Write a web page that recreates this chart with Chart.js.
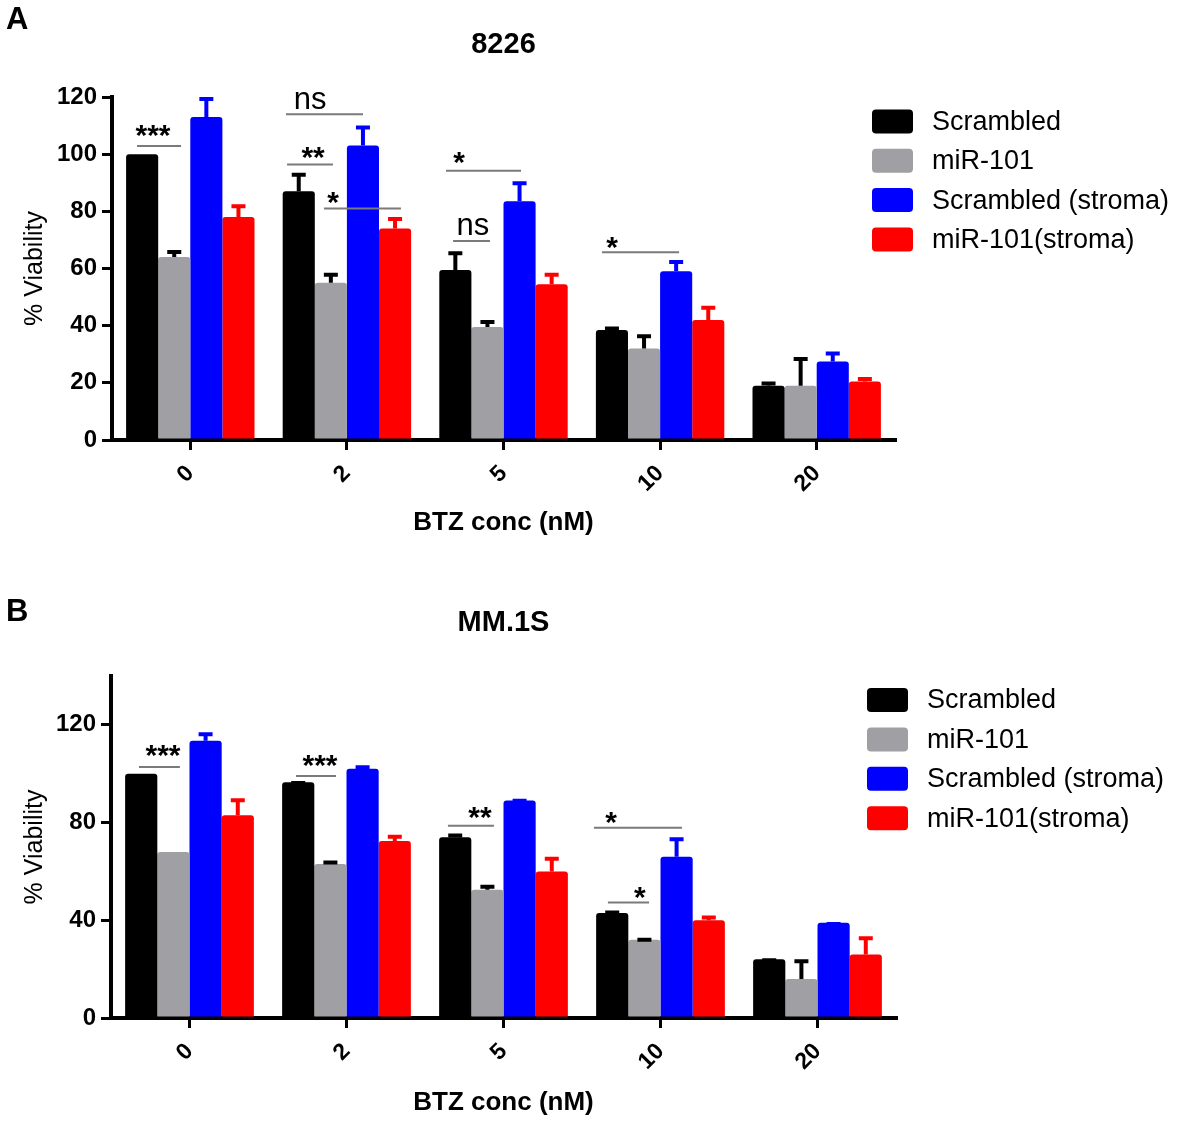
<!DOCTYPE html>
<html>
<head>
<meta charset="utf-8">
<script src="https://cdn.jsdelivr.net/npm/chart.js@4.4.1/dist/chart.umd.min.js"></script>
<style>
  body { margin: 0; background: #fff; font-family: "Liberation Sans", Arial, sans-serif; }
  .panel { position: absolute; left: 0; width: 1181px; }
  .letter { position: absolute; left: 6px; font-weight: bold; font-size: 31px; color: #000; }
</style>
</head>
<body>
<div class="panel" style="top:0;height:560px"><canvas id="chartA"></canvas></div>
<div class="panel" style="top:560px;height:561px"><canvas id="chartB"></canvas></div>
<div class="letter" style="top:1px">A</div>
<div class="letter" style="top:593px">B</div>
<script>
const doses = ['0', '2', '5', '10', '20'];
const seriesNames = ['Scrambled', 'miR-101', 'Scrambled (stroma)', 'miR-101(stroma)'];
const seriesColors = ['#000000', '#a0a0a4', '#0000ff', '#ff0000'];
const errColors = ['#000000', '#000000', '#0000ff', '#ff0000']; // grey bars get black SEM bars

// panel A - 8226
const a_scrambled = [100, 87, 59.5, 38.5, 19];
const a_mir101 = [64, 55, 39.5, 32, 19];
const a_scrStroma = [113, 103, 83.5, 59, 27.5];
const a_mirStroma = [78, 74, 54.5, 42, 20.5];
const a_scrambledErr = [0, 6.5, 6.5, 1.2, 1.5];
const a_mir101Err = [2.5, 3.5, 2.5, 5, 10];
const a_scrStromaErr = [7, 7, 7, 4, 3.5];
const a_mirStromaErr = [4.5, 4, 4, 5, 1.5];

// significance marks for A (x in category units relative to the group centre)
const a_sigGroup = [0, 1, 1, 1, 2, 2, 3];
const a_sigStart = [-0.34, -0.389, -0.382, -0.146, -0.367, -0.322, -0.371];
const a_sigEnd = [-0.059, 0.103, -0.089, 0.345, 0.112, -0.086, 0.121];
const a_sigLineY = [102.9, 114, 96.4, 81, 94.2, 69.6, 65.7];
const a_sigText = ['***', 'ns', '**', '*', '*', 'ns', '*'];
const a_sigTextX = [-0.238, -0.235, -0.216, -0.089, -0.284, -0.195, -0.307];
const a_sigTextY = [108, 118.9, 100.3, 84.6, 98.8, 74.8, 68.9];

// panel B - MM.1S
const b_scrambled = [100, 96.5, 74, 43, 24];
const b_mir101 = [68, 63, 52.5, 32, 16];
const b_scrStroma = [113.5, 102, 89, 66, 39];
const b_mirStroma = [83, 72.5, 60, 40, 26];
const b_scrambledErr = [0, 0.5, 1.5, 1, 0.5];
const b_mir101Err = [0, 1.5, 2, 0.8, 8];
const b_scrStromaErr = [3.5, 1.5, 0.8, 8, 0.3];
const b_mirStromaErr = [7, 2.5, 6, 2, 7.5];

const b_sigGroup = [0, 1, 2, 3, 3];
const b_sigStart = [-0.322, -0.322, -0.354, -0.424, -0.335];
const b_sigEnd = [-0.061, -0.067, -0.061, 0.137, -0.073];
const b_sigLineY = [102.7, 99.1, 78.7, 77.9, 47.3];
const b_sigText = ['***', '***', '**', '*', '*'];
const b_sigTextX = [-0.169, -0.169, -0.150, -0.315, -0.131];
const b_sigTextY = [109.1, 105.4, 84, 82, 51.2];

Chart.defaults.font.family = '"Liberation Sans", Arial, sans-serif';
Chart.defaults.color = '#000';

// upward SEM bars
function errorBars(errs) {
  return {
    id: 'errorBars',
    afterDatasetsDraw(chart) {
      const { ctx, scales: { y } } = chart;
      chart.data.datasets.forEach((ds, d) => {
        chart.getDatasetMeta(d).data.forEach((bar, i) => {
          const e = errs[d][i];
          if (!e) return;
          const top = y.getPixelForValue(ds.data[i] + e) + 2;
          ctx.save();
          ctx.strokeStyle = errColors[d];
          ctx.lineWidth = 4;
          ctx.beginPath();
          ctx.moveTo(bar.x, bar.y);
          ctx.lineTo(bar.x, top);
          ctx.moveTo(bar.x - 7, top);
          ctx.lineTo(bar.x + 7, top);
          ctx.stroke();
          ctx.restore();
        });
      });
    }
  };
}

function sigMarks(groups, starts, ends, lineYs, texts, textXs, textYs) {
  return {
    id: 'sigMarks',
    afterDatasetsDraw(chart) {
      const { ctx, scales: { x, y } } = chart;
      const step = x.getPixelForValue(1) - x.getPixelForValue(0);
      groups.forEach((g, i) => {
        const cx = x.getPixelForValue(g);
        const ly = y.getPixelForValue(lineYs[i]);
        ctx.save();
        ctx.strokeStyle = '#7a7a7a';
        ctx.lineWidth = 2;
        ctx.beginPath();
        ctx.moveTo(cx + starts[i] * step, ly);
        ctx.lineTo(cx + ends[i] * step, ly);
        ctx.stroke();
        const isNs = texts[i] === 'ns';
        ctx.font = (isNs ? 'normal 31px ' : 'bold 30px ') + '"Liberation Sans", Arial, sans-serif';
        ctx.fillStyle = '#000';
        ctx.textAlign = 'center';
        ctx.textBaseline = 'alphabetic';
        const m = ctx.measureText(texts[i]);
        const ty = y.getPixelForValue(textYs[i]) + (m.actualBoundingBoxAscent - m.actualBoundingBoxDescent) / 2;
        ctx.fillText(texts[i], cx + textXs[i] * step, ty);
        ctx.restore();
      });
    }
  };
}

function boxLegend(boxX, firstY, rowH) {
  return {
    id: 'boxLegend',
    afterDraw(chart) {
      const ctx = chart.ctx;
      chart.data.datasets.forEach((ds, i) => {
        const cy = firstY + i * rowH;
        ctx.save();
        ctx.fillStyle = ds.backgroundColor;
        ctx.beginPath();
        ctx.roundRect(boxX, cy - 12, 41, 24, 4);
        ctx.fill();
        ctx.fillStyle = '#000';
        ctx.font = '27px "Liberation Sans", Arial, sans-serif';
        ctx.textAlign = 'left';
        ctx.textBaseline = 'middle';
        ctx.fillText(ds.label, boxX + 60, cy + 1);
        ctx.restore();
      });
    }
  };
}

function makeChart(id, cfg) {
  const datasets = cfg.values.map((vals, k) => ({
    label: seriesNames[k],
    data: vals,
    backgroundColor: seriesColors[k],
    borderWidth: 0,
    borderRadius: 3,
    borderSkipped: 'start',
    categoryPercentage: 0.82,
    barPercentage: 1.0
  }));
  return new Chart(document.getElementById(id), {
    type: 'bar',
    data: { labels: doses, datasets },
    options: {
      responsive: true,
      maintainAspectRatio: false,
      animation: false,
      layout: { padding: { left: 0, right: 1181 - cfg.right, top: 0, bottom: 0 } },
      plugins: {
        legend: { display: false },
        tooltip: { enabled: false },
        title: {
          display: true,
          fullSize: false,
          text: cfg.title,
          font: { size: 29, weight: 'bold' },
          padding: { top: cfg.titleTop, bottom: cfg.titleBottom }
        }
      },
      scales: {
        x: {
          afterFit: s => { s.height = cfg.xHeight; },
          grid: { display: true, drawOnChartArea: false, drawTicks: true, tickLength: 10, offset: false, color: '#000', lineWidth: 3 },
          border: { display: true, color: '#000', width: 4 },
          ticks: { minRotation: 45, maxRotation: 45, padding: 10, font: { size: 23, weight: 'bold' } },
          title: {
            display: true,
            text: 'BTZ conc (nM)',
            font: { size: 26, weight: 'bold' },
            padding: { top: 0, bottom: cfg.xTitlePad }
          }
        },
        y: {
          min: 0,
          max: cfg.yMax,
          afterFit: s => { s.width = cfg.left; },
          afterBuildTicks: s => { s.ticks = s.ticks.filter(t => t.value <= cfg.yTopTick); },
          grid: { display: true, drawOnChartArea: false, drawTicks: true, tickLength: 10, color: '#000', lineWidth: 3 },
          border: { display: true, color: '#000', width: 4 },
          ticks: { stepSize: cfg.yStep, padding: 5, font: { size: 24, weight: 'bold' } },
          title: {
            display: true,
            text: '% Viability',
            font: { size: 25, weight: 'normal' },
            padding: { top: 20, bottom: 0 }
          }
        }
      }
    },
    plugins: [
      errorBars(cfg.errors),
      sigMarks(...cfg.sig),
      boxLegend(cfg.legendX, cfg.legendY, cfg.legendRow)
    ]
  });
}

makeChart('chartA', {
  title: '8226',
  values: [a_scrambled, a_mir101, a_scrStroma, a_mirStroma],
  errors: [a_scrambledErr, a_mir101Err, a_scrStromaErr, a_mirStromaErr],
  sig: [a_sigGroup, a_sigStart, a_sigEnd, a_sigLineY, a_sigText, a_sigTextX, a_sigTextY],
  yMax: 120, yStep: 20, yTopTick: 120,
  left: 112, right: 895,
  titleTop: 28, titleBottom: 34.2,
  xHeight: 120, xTitlePad: 21.4,
  legendX: 872, legendY: 121.5, legendRow: 39.3
});

makeChart('chartB', {
  title: 'MM.1S',
  values: [b_scrambled, b_mir101, b_scrStroma, b_mirStroma],
  errors: [b_scrambledErr, b_mir101Err, b_scrStromaErr, b_mirStromaErr],
  sig: [b_sigGroup, b_sigStart, b_sigEnd, b_sigLineY, b_sigText, b_sigTextX, b_sigTextY],
  yMax: 140, yStep: 40, yTopTick: 120,
  left: 111, right: 896,
  titleTop: 45.6, titleBottom: 35.6,
  xHeight: 103, xTitlePad: 2.4,
  legendX: 867, legendY: 140, legendRow: 39.4
});
</script>
</body>
</html>
